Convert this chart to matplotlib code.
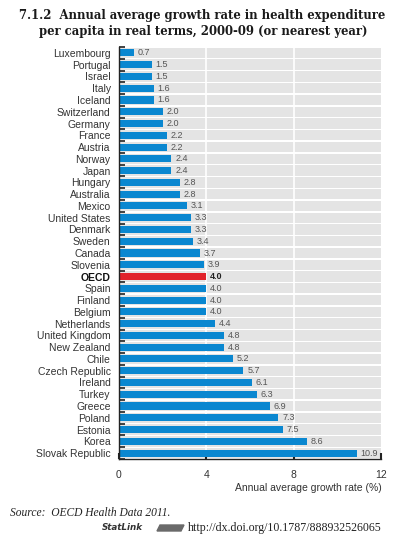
import matplotlib
matplotlib.use("Agg")
import matplotlib.pyplot as plt
from matplotlib import font_manager as fm
from matplotlib.patches import Polygon
import numpy as np

countries = ["Luxembourg", "Portugal", "Israel", "Italy", "Iceland", "Switzerland", "Germany",
             "France", "Austria", "Norway", "Japan", "Hungary", "Australia", "Mexico",
             "United States", "Denmark", "Sweden", "Canada", "Slovenia", "OECD", "Spain",
             "Finland", "Belgium", "Netherlands", "United Kingdom", "New Zealand", "Chile",
             "Czech Republic", "Ireland", "Turkey", "Greece", "Poland", "Estonia", "Korea",
             "Slovak Republic"]
values = [0.7, 1.5, 1.5, 1.6, 1.6, 2.0, 2.0, 2.2, 2.2, 2.4, 2.4, 2.8, 2.8, 3.1, 3.3, 3.3, 3.4,
          3.7, 3.9, 4.0, 4.0, 4.0, 4.0, 4.4, 4.8, 4.8, 5.2, 5.7, 6.1, 6.3, 6.9, 7.3, 7.5, 8.6, 10.9]
xticks = [0, 4, 8, 12]
highlight = "OECD"

names = {f.name for f in fm.fontManager.ttflist}
narrow = "Liberation Sans Narrow" if "Liberation Sans Narrow" in names else "Liberation Sans"

BLUE = "#0a87d0"
RED = "#e1232b"
GRAY = "#e4e4e4"
TXT = "#333333"

W, H = 399, 552
fig = plt.figure(figsize=(W/100, H/100), dpi=100)
ax = fig.add_axes([119/W, 1-459/H, (381-119)/W, (459-47)/H])

n = len(countries)
y = np.arange(n)
ax.barh(y, [12]*n, height=0.88, color=GRAY, zorder=0)
for xv in [4, 8]:
    ax.axvline(xv, color="white", lw=1.2, zorder=1)
colors = [RED if c == highlight else BLUE for c in countries]
ax.barh(y, values, height=0.6, color=colors, zorder=2)
for yi, v, c in zip(y, values, countries):
    ax.text(v + 0.17, yi, f"{v:.1f}", va="center", ha="left", fontsize=6.5,
            family=narrow, color="#555555" if c != highlight else "#222222",
            fontweight="bold" if c == highlight else "normal", zorder=3)

ax.set_ylim(n - 0.5, -0.5)
ax.set_xlim(0, 12)
ax.set_yticks(y)
ax.set_yticklabels(countries, family=narrow, fontsize=7.5, color=TXT)
for lab in ax.get_yticklabels():
    if lab.get_text() == highlight:
        lab.set_fontweight("bold")
        lab.set_color("#111111")
ax.tick_params(axis="y", length=0, pad=6)
ax.set_yticks(np.arange(n + 1) - 0.5, minor=True)
ax.tick_params(axis="y", which="minor", direction="in", length=4, width=1.2, color="#222222")
ax.set_xticks(xticks)
ax.set_xticklabels([str(t) for t in xticks], family=narrow, fontsize=7.5, color=TXT)
ax.tick_params(axis="x", direction="in", length=4.5, width=1.5, color="#222222", pad=8)

for s in ["top", "right"]:
    ax.spines[s].set_visible(False)
for s in ["left", "bottom"]:
    ax.spines[s].set_color("#222222")
    ax.spines[s].set_linewidth(1.0)

fig.text(382/W, 1-488/H, "Annual average growth rate (%)", ha="right", va="center",
         family=narrow, fontsize=7.5, color=TXT)

fig.text(202/W, 1-16/H, "7.1.2  Annual average growth rate in health expenditure",
         ha="center", va="center", family="DejaVu Serif", fontweight="bold", fontsize=8.4, color="#1a1a1a")
fig.text(203/W, 1-32/H, "per capita in real terms, 2000-09 (or nearest year)",
         ha="center", va="center", family="DejaVu Serif", fontweight="bold", fontsize=8.4, color="#1a1a1a")

fig.text(10/W, 1-513/H, "Source:  OECD Health Data 2011.", ha="left", va="center",
         family="Liberation Serif", style="italic", fontsize=8.3, color="#222222")
fig.text(102/W, 1-528/H, "StatLink", ha="left", va="center", family="DejaVu Sans",
         style="italic", fontweight="bold", fontsize=6.3, color="#333333")
icon = Polygon([(157/W, 1-531/H), (181/W, 1-531/H), (184/W, 1-525/H), (160/W, 1-525/H)],
               closed=True, transform=fig.transFigure, color="#6a6a6a")
fig.patches.append(icon)
fig.text(188/W, 1-528/H, "http://dx.doi.org/10.1787/888932526065", ha="left", va="center",
         family="Liberation Serif", fontsize=8.6, color="#222222")

fig.savefig("out.png", dpi=100, facecolor="white")
